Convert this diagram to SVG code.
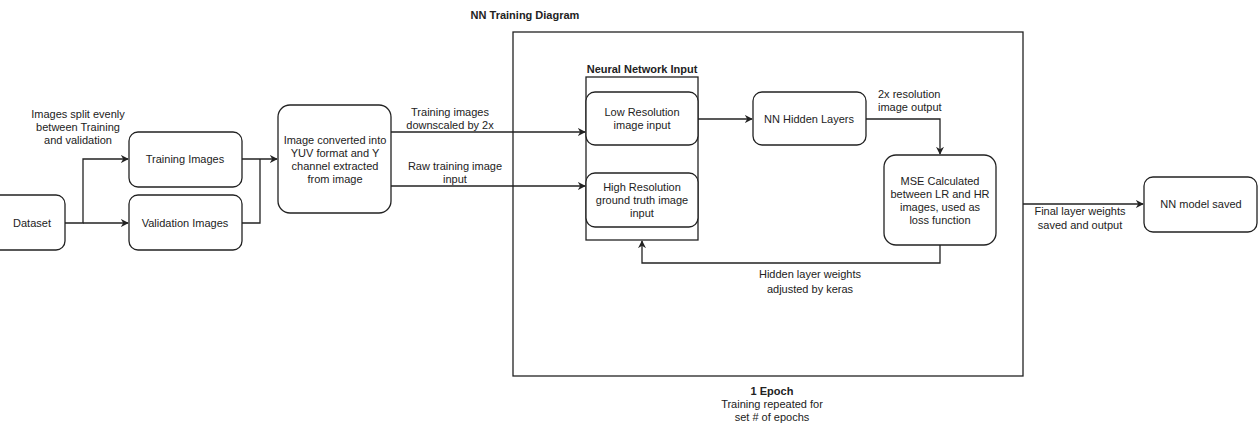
<svg xmlns="http://www.w3.org/2000/svg" width="1258" height="424" viewBox="0 0 1258 424">
<style>
  .box { fill: #fff; stroke: #222; stroke-width: 1.3; }
  .frame { fill: none; stroke: #222; stroke-width: 1.3; }
  .t { font-family: "Liberation Sans", Arial, sans-serif; font-size: 11px; fill: #222; text-anchor: middle; }
  .b { font-weight: bold; }
  .e { fill: none; stroke: #222; stroke-width: 1.3; }
</style>
<defs>
  <marker id="arr" viewBox="0 0 10 10" refX="9" refY="5" markerWidth="8" markerHeight="8" markerUnits="userSpaceOnUse" orient="auto">
    <path d="M0,0 L10,5 L0,10 L3,5 Z" fill="#222"/>
  </marker>
</defs>
<rect width="1258" height="424" fill="#fff"/>

<g id="title"><text class="t b" x="525" y="19">NN Training Diagram</text></g>

<g id="epoch">
  <rect class="frame" x="513" y="32" width="510" height="344"/>
  <text class="t b" x="772" y="395">1 Epoch</text>
  <text class="t" x="772" y="408">Training repeated for</text>
  <text class="t" x="772" y="421">set # of epochs</text>
</g>

<g id="nn-input">
  <rect class="frame" x="586" y="77" width="112" height="163"/>
  <text class="t b" x="642" y="73">Neural Network Input</text>
</g>

<g id="dataset">
  <rect class="box" x="-12" y="195" width="77" height="55" rx="9"/>
  <text class="t" x="32" y="227">Dataset</text>
</g>

<g id="training">
  <rect class="box" x="129" y="132" width="113" height="55" rx="9"/>
  <text class="t" x="185" y="163">Training Images</text>
</g>

<g id="validation">
  <rect class="box" x="129" y="195" width="113" height="55" rx="9"/>
  <text class="t" x="185" y="227">Validation Images</text>
</g>

<g id="yuv">
  <rect class="box" x="278" y="105" width="113" height="108" rx="12"/>
  <text class="t" x="335" y="144">Image converted into</text>
  <text class="t" x="335" y="157">YUV format and Y</text>
  <text class="t" x="335" y="170">channel extracted</text>
  <text class="t" x="335" y="183">from image</text>
</g>

<g id="lowres">
  <rect class="box" x="586" y="92" width="112" height="53" rx="9"/>
  <text class="t" x="642" y="116">Low Resolution</text>
  <text class="t" x="642" y="129">image input</text>
</g>

<g id="highres">
  <rect class="box" x="586" y="173" width="112" height="54" rx="9"/>
  <text class="t" x="642" y="191">High Resolution</text>
  <text class="t" x="642" y="204">ground truth image</text>
  <text class="t" x="642" y="217">input</text>
</g>

<g id="hidden">
  <rect class="box" x="753" y="92" width="113" height="53" rx="9"/>
  <text class="t" x="809" y="123">NN Hidden Layers</text>
</g>

<g id="mse">
  <rect class="box" x="884" y="155" width="112" height="90" rx="12"/>
  <text class="t" x="940" y="185">MSE Calculated</text>
  <text class="t" x="940" y="198">between LR and HR</text>
  <text class="t" x="940" y="211">images, used as</text>
  <text class="t" x="940" y="224">loss function</text>
</g>

<g id="saved">
  <rect class="box" x="1144" y="177" width="113" height="55" rx="9"/>
  <text class="t" x="1201" y="208">NN model saved</text>
</g>

<g id="connectors">
  <path class="e" d="M65,223 L83,223 L83,159 L128,159" marker-end="url(#arr)"/>
  <path class="e" d="M83,223 L128,223" marker-end="url(#arr)"/>
  <path class="e" d="M242,159 L277,159" marker-end="url(#arr)"/>
  <path class="e" d="M242,223 L260,223 L260,159"/>
  <path class="e" d="M391,132 L585,132" marker-end="url(#arr)"/>
  <path class="e" d="M391,186 L585,186" marker-end="url(#arr)"/>
  <path class="e" d="M698,119 L752,119" marker-end="url(#arr)"/>
  <path class="e" d="M866,119 L940,119 L940,154" marker-end="url(#arr)"/>
  <path class="e" d="M940,245 L940,263 L642,263 L642,241" marker-end="url(#arr)"/>
  <path class="e" d="M1023,204 L1143,204" marker-end="url(#arr)"/>
  <text class="t" x="78" y="118">Images split evenly</text>
  <text class="t" x="78" y="131">between Training</text>
  <text class="t" x="78" y="144">and validation</text>
  <text class="t" x="450" y="116">Training images</text>
  <text class="t" x="450" y="129">downscaled by 2x</text>
  <text class="t" x="455" y="170">Raw training image</text>
  <text class="t" x="455" y="183">input</text>
  <text class="t" x="878" y="98" style="text-anchor:start">2x resolution</text>
  <text class="t" x="878" y="111" style="text-anchor:start">image output</text>
  <text class="t" x="810" y="278">Hidden layer weights</text>
  <text class="t" x="810" y="293">adjusted by keras</text>
  <text class="t" x="1080" y="215">Final layer weights</text>
  <text class="t" x="1080" y="229">saved and output</text>
</g>
</svg>
